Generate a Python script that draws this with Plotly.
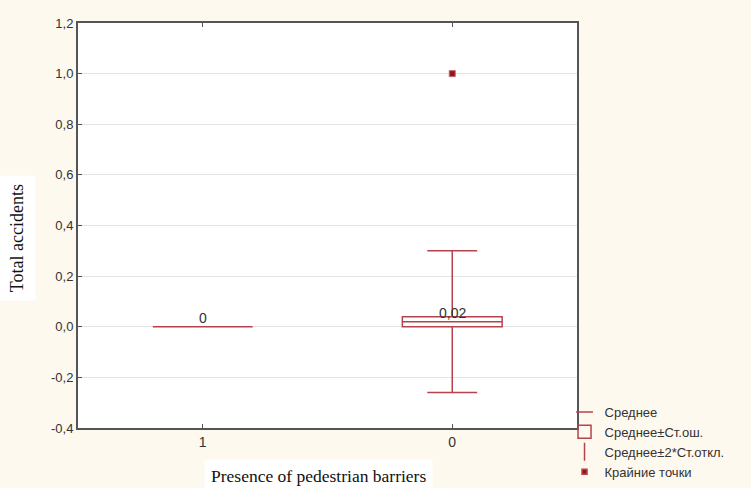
import plotly.graph_objects as go

categories = ["1", "0"]
means = [0.0, 0.02]
se_low = [0.0, 0.0]
se_high = [0.0, 0.04]
sd2_low = [0.0, -0.26]
sd2_high = [0.0, 0.30]
mean_labels = ["0", "0,02"]
outlier_x = ["0"]
outlier_y = [1.0]
ytick_vals = [-0.4, -0.2, 0.0, 0.2, 0.4, 0.6, 0.8, 1.0, 1.2]
ytick_text = ["-0,4", "-0,2", "0,0", "0,2", "0,4", "0,6", "0,8", "1,0", "1,2"]
legend_names = ["Среднее", "Среднее±Ст.ош.", "Среднее±2*Ст.откл.", "Крайние точки"]

RED = "#B5434E"
DARK = "#8B1A1A"

fig = go.Figure()

fig.add_trace(go.Box(
    x=categories, q1=se_low, median=means, q3=se_high,
    lowerfence=sd2_low, upperfence=sd2_high,
    width=0.4, whiskerwidth=0.5,
    line=dict(color=RED, width=1.5),
    fillcolor="rgba(255,255,255,0)",
    boxpoints=False, showlegend=False, hoverinfo="skip",
))

fig.add_trace(go.Scatter(
    x=outlier_x, y=outlier_y, mode="markers",
    marker=dict(symbol="square", size=6, color=DARK,
                line=dict(color="#D06070", width=1)),
    showlegend=False, hoverinfo="skip",
))

# Legend dummies
legend_symbols = ["line-ew", "square-open", "line-ns", "square"]
legend_sizes = [12, 13, 13, 5]
for name, sym, sz in zip(legend_names, legend_symbols, legend_sizes):
    fig.add_trace(go.Scatter(
        x=[None], y=[None], mode="markers", name=name,
        marker=dict(symbol=sym, size=sz, color=DARK if sym == "square" else RED,
                    line=dict(color=RED if sym != "square-open" else "#a0a0a0", width=1.5)),
    ))

for i, (m, lab) in enumerate(zip(means, mean_labels)):
    fig.add_annotation(x=i, y=m, text=lab, showarrow=False, yshift=9,
                       font=dict(family="Liberation Sans, Arial", size=14, color="#333"))

fig.add_annotation(xref="paper", yref="paper", x=-0.122, y=0.469,
                   xanchor="center", yanchor="middle",
                   text="Total accidents", textangle=-90, showarrow=False,
                   bgcolor="white", borderpad=8,
                   font=dict(family="Liberation Serif, Times New Roman", size=18, color="#111"))
fig.add_annotation(xref="paper", yref="paper", x=0.482, y=-0.118,
                   xanchor="center", yanchor="middle",
                   text="Presence of pedestrian barriers", showarrow=False,
                   bgcolor="white", borderpad=6,
                   font=dict(family="Liberation Serif, Times New Roman", size=17.5, color="#111"))

fig.update_layout(
    width=751, height=488,
    margin=dict(l=78, r=174, t=23, b=60, autoexpand=False),
    paper_bgcolor="#FDF9EF",
    plot_bgcolor="white",
    font=dict(family="Liberation Sans, Arial", size=13, color="#333"),
    legend=dict(x=0.975, y=0.0765, xanchor="left", yanchor="top",
                bgcolor="rgba(0,0,0,0)", font=dict(size=13, color="#333"),
                tracegroupgap=0, itemwidth=30),
    xaxis=dict(type="category", range=[-0.5, 1.5], showgrid=False,
               showline=True, linecolor="#555", linewidth=2, mirror="ticks",
               ticks="inside", ticklen=4, tickcolor="#555",
               tickfont=dict(size=14)),
    yaxis=dict(range=[-0.4, 1.2], tickvals=ytick_vals, ticktext=ytick_text,
               showgrid=True, gridcolor="#E4E4E4", gridwidth=1, zeroline=False,
               showline=True, linecolor="#555", linewidth=2, mirror=True,
               ticks="inside", ticklen=4, tickcolor="#555",
               tickfont=dict(size=13)),
)

fig.write_html("out.html", config={"displayModeBar": False},
               post_script="document.body.style.margin='0px';")
